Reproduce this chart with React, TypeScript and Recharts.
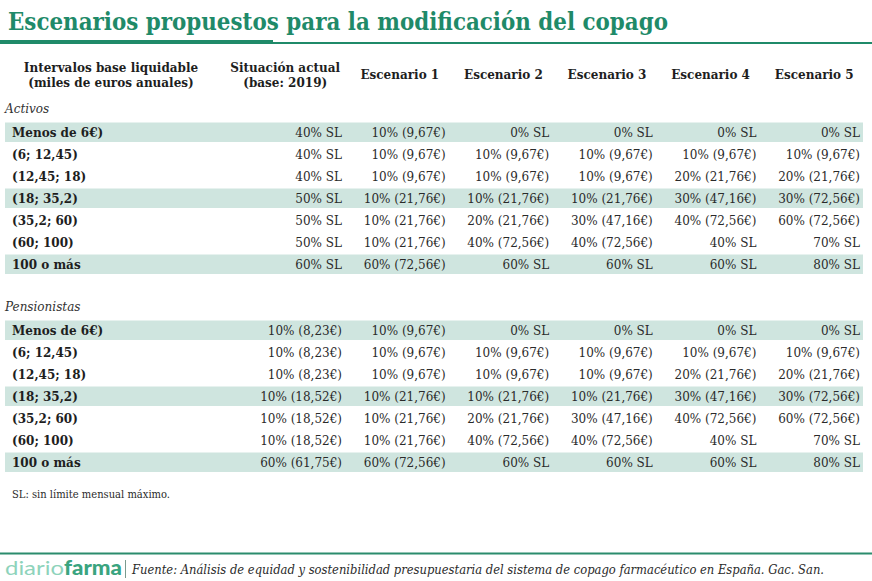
import React from 'react';
import { ComposedChart, Bar, XAxis, YAxis, LabelList, Cell } from 'recharts';

const title = 'Escenarios propuestos para la modificación del copago';
const intervalHeader = ['Intervalos base liquidable', '(miles de euros anuales)'];
const columnHeaders: string[][] = [
  ['Situación actual', '(base: 2019)'],
  ['Escenario 1'],
  ['Escenario 2'],
  ['Escenario 3'],
  ['Escenario 4'],
  ['Escenario 5'],
];
const sections = ['Activos', 'Pensionistas'];
const intervals = ['Menos de 6€)', '(6; 12,45)', '(12,45; 18)', '(18; 35,2)', '(35,2; 60)', '(60; 100)', '100 o más'];
const highlightedRows = [0, 3, 6];

const activosSituacion = ['40% SL', '40% SL', '40% SL', '50% SL', '50% SL', '50% SL', '60% SL'];
const activosEsc1 = ['10% (9,67€)', '10% (9,67€)', '10% (9,67€)', '10% (21,76€)', '10% (21,76€)', '10% (21,76€)', '60% (72,56€)'];
const activosEsc2 = ['0% SL', '10% (9,67€)', '10% (9,67€)', '10% (21,76€)', '20% (21,76€)', '40% (72,56€)', '60% SL'];
const activosEsc3 = ['0% SL', '10% (9,67€)', '10% (9,67€)', '10% (21,76€)', '30% (47,16€)', '40% (72,56€)', '60% SL'];
const activosEsc4 = ['0% SL', '10% (9,67€)', '20% (21,76€)', '30% (47,16€)', '40% (72,56€)', '40% SL', '60% SL'];
const activosEsc5 = ['0% SL', '10% (9,67€)', '20% (21,76€)', '30% (72,56€)', '60% (72,56€)', '70% SL', '80% SL'];

const pensionistasSituacion = ['10% (8,23€)', '10% (8,23€)', '10% (8,23€)', '10% (18,52€)', '10% (18,52€)', '10% (18,52€)', '60% (61,75€)'];
const pensionistasEsc1 = ['10% (9,67€)', '10% (9,67€)', '10% (9,67€)', '10% (21,76€)', '10% (21,76€)', '10% (21,76€)', '60% (72,56€)'];
const pensionistasEsc2 = ['0% SL', '10% (9,67€)', '10% (9,67€)', '10% (21,76€)', '20% (21,76€)', '40% (72,56€)', '60% SL'];
const pensionistasEsc3 = ['0% SL', '10% (9,67€)', '10% (9,67€)', '10% (21,76€)', '30% (47,16€)', '40% (72,56€)', '60% SL'];
const pensionistasEsc4 = ['0% SL', '10% (9,67€)', '20% (21,76€)', '30% (47,16€)', '40% (72,56€)', '40% SL', '60% SL'];
const pensionistasEsc5 = ['0% SL', '10% (9,67€)', '20% (21,76€)', '30% (72,56€)', '60% (72,56€)', '70% SL', '80% SL'];

const footnote = 'SL: sin límite mensual máximo.';
const source = 'Fuente: Análisis de equidad y sostenibilidad presupuestaria del sistema de copago farmacéutico en España. Gac. San.';

const SERIF = "'DejaVu Serif', serif";
const GREEN = '#1f8a69';
const SHADE = '#cfe5df';
const TEXT = '#2a2a2a';
const NCOLS = columnHeaders.length;

type Row = { key: string; kind: 'section' | 'row' | 'gap'; label: string; span: number | null; shaded: boolean; [k: string]: any };

const buildSection = (prefix: string, name: string, cols: string[][]): Row[] => [
  { key: `${prefix}-sec`, kind: 'section', label: name, span: null, shaded: false },
  ...intervals.map((label, i) => {
    const r: Row = { key: `${prefix}${i}`, kind: 'row', label, span: NCOLS, shaded: highlightedRows.includes(i) };
    cols.forEach((c, j) => { r[`c${j}`] = c[i]; });
    return r;
  }),
];

const rows: Row[] = [
  ...buildSection('a', sections[0], [activosSituacion, activosEsc1, activosEsc2, activosEsc3, activosEsc4, activosEsc5]),
  { key: 'gap', kind: 'gap', label: '', span: null, shaded: false },
  ...buildSection('p', sections[1], [pensionistasSituacion, pensionistasEsc1, pensionistasEsc2, pensionistasEsc3, pensionistasEsc4, pensionistasEsc5]),
];
const rowByKey: Record<string, Row> = Object.fromEntries(rows.map((r) => [r.key, r]));

const RowTick = (props: any) => {
  const { y, payload } = props;
  const row = rowByKey[payload?.value];
  if (!row || row.kind === 'gap') return <g />;
  if (row.kind === 'section') {
    return (
      <text x={5} y={y + 2.5} fontStyle="italic" fontSize={12} fill="#333" fontFamily={SERIF}>
        {row.label}
      </text>
    );
  }
  return (
    <text x={12} y={y + 4.5} fontWeight="bold" fontSize={12} fill="#1e1e1e" fontFamily={SERIF}>
      {row.label}
    </text>
  );
};

const HeaderTick = (props: any) => {
  const { x, payload } = props;
  const col = Math.floor(payload?.value ?? 0);
  const lines = columnHeaders[col] || [];
  const cx = x + (col === 0 ? -8 : 3);
  if (lines.length === 2) {
    return (
      <g>
        <text x={cx} y={71.5} textAnchor="middle" fontWeight="bold" fontSize={12} fill="#1e1e1e" fontFamily={SERIF}>{lines[0]}</text>
        <text x={cx} y={87} textAnchor="middle" fontWeight="bold" fontSize={12} fill="#1e1e1e" fontFamily={SERIF}>{lines[1]}</text>
      </g>
    );
  }
  return (
    <text x={cx} y={79} textAnchor="middle" fontWeight="bold" fontSize={12} fill="#1e1e1e" fontFamily={SERIF}>{lines[0]}</text>
  );
};

const num = (v: any) => (typeof v === 'number' ? v : parseFloat(v) || 0);

const makeCell = (col: number) => (props: any) => {
  const vb = props.viewBox || {};
  const value = props.value;
  if (value == null || value === '') return <g />;
  const x = num(props.x ?? vb.x);
  const y = num(props.y ?? vb.y);
  const w = num(props.width ?? vb.width);
  const h = num(props.height ?? vb.height);
  const right = x + (w * (col + 1)) / NCOLS - 3;
  return (
    <text x={right} y={y + h / 2 + 4.5} textAnchor="end" fontSize={12} fill={TEXT} fontFamily={SERIF}>
      {value}
    </text>
  );
};

const ShadeShape = (props: any) => {
  const { x, y, width, height, fill } = props;
  if (!fill || fill === 'none' || !width) return <g />;
  return <rect x={5} y={y} width={x + width - 5} height={height} fill={fill} />;
};

export default function App() {
  return (
    <div style={{ position: 'absolute', left: 0, top: 0, width: 872, height: 581, background: '#fff', fontFamily: SERIF }}>
      <ComposedChart
        width={872}
        height={581}
        layout="vertical"
        data={rows}
        margin={{ top: 49.5, right: 9, bottom: 107.5, left: 0 }}
      >
        <XAxis
          type="number"
          orientation="top"
          domain={[0, NCOLS]}
          ticks={columnHeaders.map((_, i) => i + 0.5)}
          height={50}
          axisLine={false}
          tickLine={false}
          tick={HeaderTick}
          interval={0}
        />
        <YAxis
          type="category"
          dataKey="key"
          width={241.4}
          axisLine={false}
          tickLine={false}
          tick={RowTick}
          interval={0}
        />
        <Bar dataKey="span" barSize={19.5} isAnimationActive={false} shape={ShadeShape}>
          {rows.map((r) => (
            <Cell key={r.key} fill={r.shaded ? SHADE : 'none'} />
          ))}
          {columnHeaders.map((_, i) => (
            <LabelList key={i} dataKey={`c${i}`} content={makeCell(i)} />
          ))}
        </Bar>
      </ComposedChart>
      <svg width={872} height={581} style={{ position: 'absolute', left: 0, top: 0, pointerEvents: 'none' }}>
        <text x={8} y={30} fontSize={24} fontWeight="bold" fill={GREEN} fontFamily={SERIF} textLength={660} lengthAdjust="spacingAndGlyphs">
          {title}
        </text>
        <rect x={0} y={40} width={273} height={4} fill={GREEN} />
        <rect x={0} y={42} width={872} height={2} fill={GREEN} />
        <text x={111} y={71.5} textAnchor="middle" fontWeight="bold" fontSize={12} fill="#1e1e1e" fontFamily={SERIF}>{intervalHeader[0]}</text>
        <text x={111} y={87} textAnchor="middle" fontWeight="bold" fontSize={12} fill="#1e1e1e" fontFamily={SERIF}>{intervalHeader[1]}</text>
        <text x={12} y={498} fontSize={10.5} fill={TEXT} fontFamily={SERIF} textLength={158} lengthAdjust="spacingAndGlyphs">{footnote}</text>
        <rect x={0} y={552.5} width={872} height={2} fill="#2b8c6d" />
        <text x={5} y={575} fontSize={20} fill="#8ed3bb" fontFamily="Lato, 'Noto Sans', sans-serif" textLength={59} lengthAdjust="spacingAndGlyphs">diario</text>
        <text x={64} y={575} fontSize={20} fontWeight={900} fill="#3aa47f" fontFamily="Lato, 'Noto Sans', sans-serif" textLength={58} lengthAdjust="spacingAndGlyphs">farma</text>
        <rect x={125} y={560} width={1} height={18} fill="#7a9a8e" />
        <text x={132} y={574} fontSize={12} fontStyle="italic" fill="#2a2a2a" fontFamily={SERIF} textLength={692} lengthAdjust="spacingAndGlyphs">{source}</text>
      </svg>
    </div>
  );
}
